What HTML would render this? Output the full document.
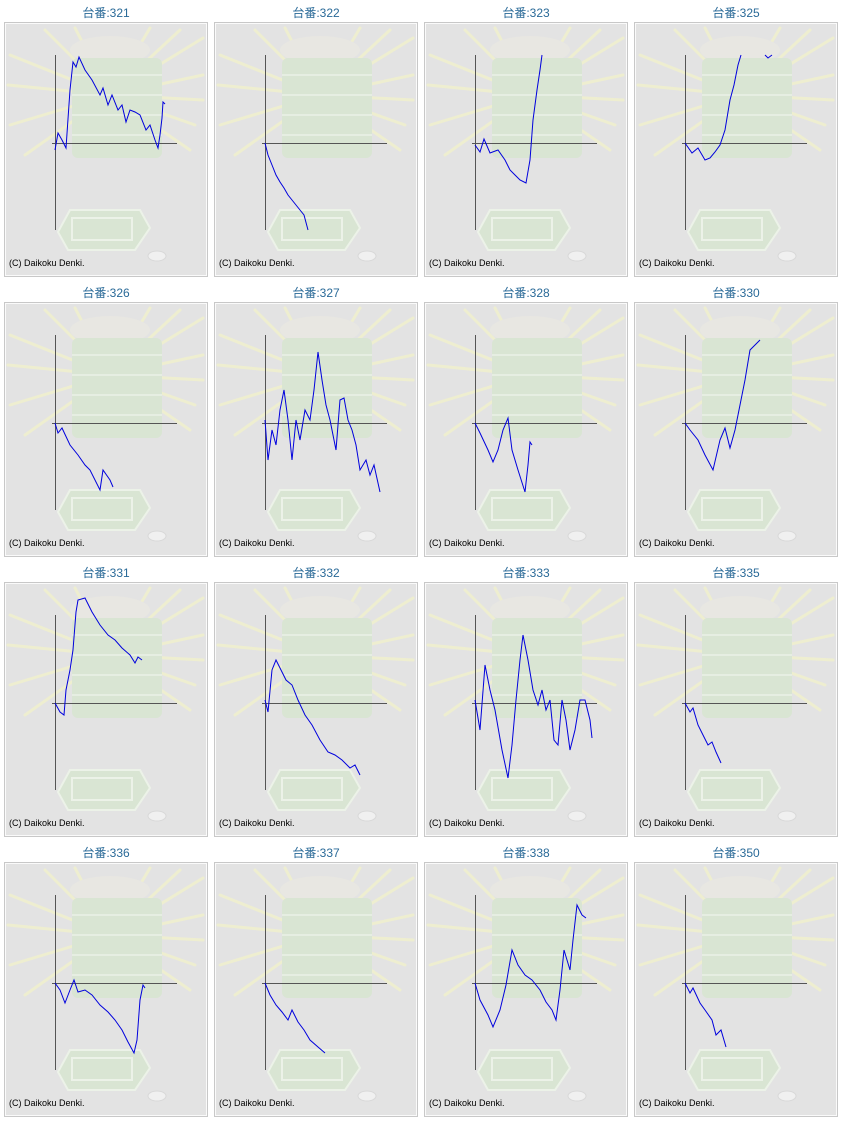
<!DOCTYPE html>
<html><head><meta charset="utf-8"><style>
html,body{margin:0;padding:0;background:#fff;}
svg{display:block;}
text{font-family:"Liberation Sans","Noto Sans CJK JP",sans-serif;}
polyline{fill:none;stroke:#0000dd;stroke-width:1;}
</style></head><body>
<svg width="842" height="1121" viewBox="0 0 842 1121" xmlns="http://www.w3.org/2000/svg">
<defs>
<g id="bg">
<rect x="4.5" y="22.5" width="203" height="254" fill="#e3e3e3" stroke="#c8c8c8"/>
<rect x="5.5" y="23.5" width="201" height="252" fill="none" stroke="#fafafa"/>
<g stroke="#eeeed0" stroke-width="3" stroke-linecap="round" fill="none">
<line x1="110" y1="95" x2="10" y2="55"/><line x1="110" y1="95" x2="8" y2="85"/>
<line x1="110" y1="95" x2="10" y2="125"/><line x1="110" y1="95" x2="25" y2="155"/>
<line x1="110" y1="95" x2="45" y2="30"/><line x1="110" y1="95" x2="75" y2="28"/>
<line x1="110" y1="95" x2="150" y2="28"/><line x1="110" y1="95" x2="180" y2="30"/>
<line x1="110" y1="95" x2="203" y2="38"/><line x1="110" y1="95" x2="203" y2="75"/>
<line x1="110" y1="95" x2="203" y2="100"/><line x1="110" y1="95" x2="195" y2="125"/>
<line x1="110" y1="95" x2="190" y2="150"/>
</g>
<ellipse cx="110" cy="50" rx="40" ry="14" fill="#e8e7e2" stroke="none"/>
<rect x="72" y="58" width="90" height="100" rx="6" fill="#d9e5d3" stroke="none"/>
<g stroke="#e6eee2" stroke-width="2"><line x1="72" y1="75" x2="162" y2="75"/><line x1="72" y1="95" x2="162" y2="95"/><line x1="72" y1="115" x2="162" y2="115"/><line x1="72" y1="135" x2="162" y2="135"/></g>
<path d="M58 232 L70 210 L140 210 L150 228 L135 250 L68 250 Z" fill="#d9e5d3" stroke="#ecf2e8" stroke-width="2"/>
<rect x="72" y="218" width="60" height="22" fill="none" stroke="#ecf2e8" stroke-width="2"/>
<ellipse cx="157" cy="256" rx="9" ry="5" fill="#f0f0f0" stroke="#d8d8d8"/>
<line x1="55.5" y1="55" x2="55.5" y2="230" stroke="#555"/>
<line x1="52" y1="143.5" x2="177" y2="143.5" stroke="#555"/>
<text x="9" y="266" font-size="9" fill="#000" stroke="none">(C) Daikoku Denki.</text>
</g>
</defs>
<g fill="#2a6a98" font-size="12" text-anchor="middle">
<text x="106" y="17">台番:321</text><text x="316" y="17">台番:322</text><text x="526" y="17">台番:323</text><text x="736" y="17">台番:325</text>
<text x="106" y="297">台番:326</text><text x="316" y="297">台番:327</text><text x="526" y="297">台番:328</text><text x="736" y="297">台番:330</text>
<text x="106" y="577">台番:331</text><text x="316" y="577">台番:332</text><text x="526" y="577">台番:333</text><text x="736" y="577">台番:335</text>
<text x="106" y="857">台番:336</text><text x="316" y="857">台番:337</text><text x="526" y="857">台番:338</text><text x="736" y="857">台番:350</text>
</g>
<g>
<use href="#bg"/>
<polyline points="55,150 58,133 62,140 66,148 70,90 73,62 76,67 79,57 85,70 92,80 100,95 103,88 108,105 112,95 118,110 122,105 126,122 130,110 135,112 140,115 146,130 150,125 155,140 158,148 160,135 162,118 163,102 165,104"/>
<g transform="translate(210,0)"><use href="#bg"/>
<polyline points="55,143 58,155 62,165 66,175 70,182 74,188 78,195 82,200 86,205 90,210 94,215 98,230"/></g>
<g transform="translate(420,0)"><use href="#bg"/>
<polyline points="55,145 60,152 64,139 70,153 78,150 85,160 90,170 95,175 100,180 106,183 110,160 113,120 117,90 120,70 122,55"/></g>
<g transform="translate(630,0)"><use href="#bg"/>
<polyline points="55,143 62,153 68,148 75,160 80,158 85,152 90,145 95,130 100,100 104,85 108,65 111,55"/><polyline points="135,55 138,58 142,55"/></g>
<g transform="translate(0,280)"><use href="#bg"/>
<polyline points="55,143 58,153 62,148 70,165 78,175 85,185 90,190 100,210 103,190 110,200 113,207"/></g>
<g transform="translate(210,280)"><use href="#bg"/>
<polyline points="55,140 58,180 62,150 66,165 70,130 74,110 78,140 82,180 86,140 90,160 95,130 100,140 104,110 108,72 112,100 116,125 120,140 126,170 130,120 134,118 138,140 142,150 146,165 150,190 156,180 160,195 164,185 170,212"/></g>
<g transform="translate(420,280)"><use href="#bg"/>
<polyline points="55,143 60,153 68,170 73,182 78,170 83,150 88,138 92,170 98,190 105,212 108,185 110,162 112,165"/></g>
<g transform="translate(630,280)"><use href="#bg"/>
<polyline points="55,143 60,150 68,160 75,175 83,190 90,160 95,148 100,168 105,150 110,125 115,100 120,70 125,65 130,60"/></g>
<g transform="translate(0,560)"><use href="#bg"/>
<polyline points="55,143 60,152 64,155 66,130 70,110 73,90 76,52 78,40 85,38 92,52 100,65 108,75 115,80 122,88 130,95 135,103 138,97 142,100"/></g>
<g transform="translate(210,560)"><use href="#bg"/>
<polyline points="55,140 58,152 62,110 66,100 70,108 76,120 82,125 88,140 95,155 102,165 110,180 118,192 125,195 132,200 140,208 145,205 150,215"/></g>
<g transform="translate(420,560)"><use href="#bg"/>
<polyline points="55,140 60,170 65,105 70,130 75,150 82,190 88,218 92,185 96,140 100,100 103,75 108,100 113,130 118,145 122,130 126,150 130,140 134,180 138,185 142,140 146,160 150,190 155,170 160,140 165,140 170,160 172,178"/></g>
<g transform="translate(630,560)"><use href="#bg"/>
<polyline points="55,143 60,152 63,148 68,165 73,175 78,185 82,182 86,192 91,203"/></g>
<g transform="translate(0,840)"><use href="#bg"/>
<polyline points="55,143 60,150 65,163 70,150 74,140 78,152 85,150 92,155 100,165 108,172 115,180 122,190 128,202 134,213 137,200 140,160 143,145 145,148"/></g>
<g transform="translate(210,840)"><use href="#bg"/>
<polyline points="55,143 60,155 66,165 72,172 78,180 82,170 88,182 94,190 100,200 108,207 115,213"/></g>
<g transform="translate(420,840)"><use href="#bg"/>
<polyline points="55,143 60,160 68,175 73,187 80,170 86,145 92,110 98,125 105,135 112,140 120,150 126,162 132,170 136,180 140,150 144,110 150,130 153,100 157,65 162,75 166,78"/></g>
<g transform="translate(630,840)"><use href="#bg"/>
<polyline points="55,143 60,153 63,148 70,163 75,170 82,180 86,195 91,190 96,207"/></g>
</g>
</svg>
</body></html>
